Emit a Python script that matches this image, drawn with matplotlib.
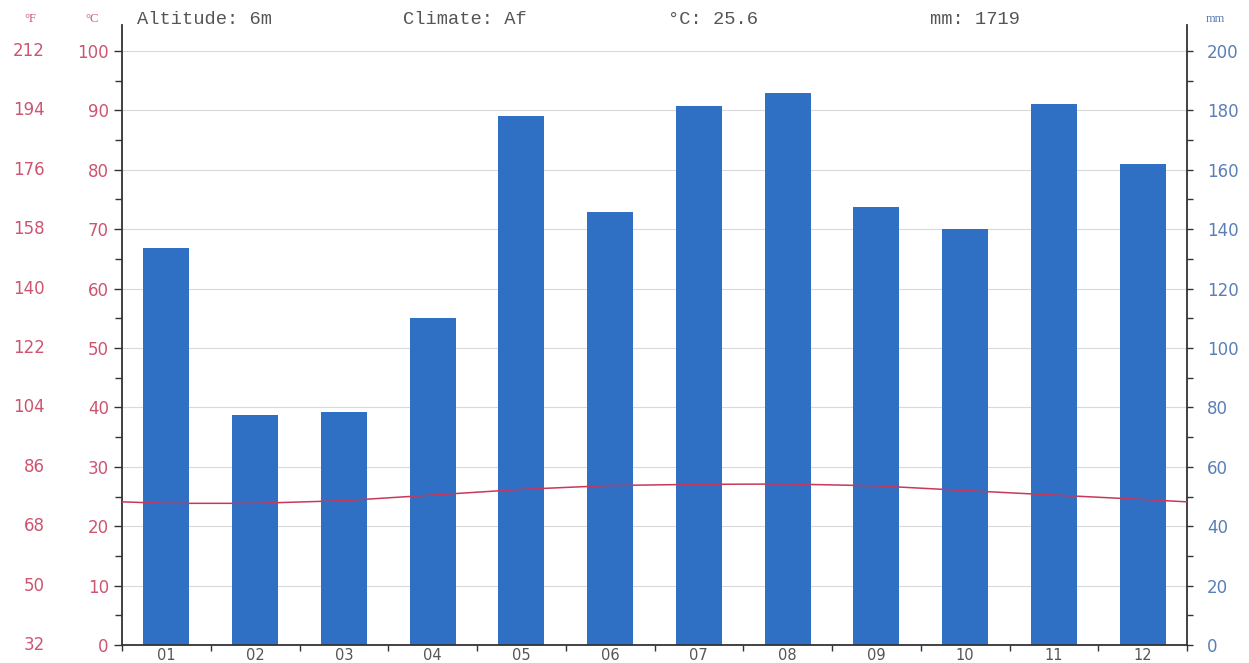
import numpy as np
import matplotlib.pyplot as plt
from matplotlib.ticker import MultipleLocator, FixedLocator, NullFormatter

months = ['01', '02', '03', '04', '05', '06', '07', '08', '09', '10', '11', '12']
precip_mm = [133.7, 77.4, 78.4, 110.0, 178.0, 145.8, 181.5, 186.0, 147.5, 140.0, 182.0, 162.0]
temp_c = [23.85, 23.85, 24.3, 25.25, 26.2, 26.85, 27.05, 27.1, 26.8, 26.0, 25.25, 24.5]
temp_edge = 24.1  # value where the curve meets both side axes
header = ['Altitude: 6m', 'Climate: Af', '°C: 25.6', 'mm: 1719']
header_x = [137, 403, 668, 930]
c_ticks = [0, 10, 20, 30, 40, 50, 60, 70, 80, 90, 100]
f_labels = ['32', '50', '68', '86', '104', '122', '140', '158', '176', '194', '212']
mm_ticks = [0, 20, 40, 60, 80, 100, 120, 140, 160, 180, 200]

RED = '#cc5570'
BLUE = '#5a7eb6'
BAR = '#2f70c4'
LINE = '#c8375c'
AX = '#333333'

W, H = 1249, 663
fig = plt.figure(figsize=(W / 100, H / 100), dpi=100)
left, right, bottom, top = 122, 1187, 645, 25
ax = fig.add_axes([left / W, 1 - bottom / H, (right - left) / W, (bottom - top) / H])

x = np.arange(1, 13)
c_top = 100 * (bottom - top) / (bottom - 51)

# precipitation bars on the mm scale (right side)
ax.bar(x, precip_mm, width=0.52, color=BAR, zorder=2)
ax.set_xlim(0.5, 12.5)
ax.set_ylim(0, 2 * c_top)
ax.grid(axis='y', color='#d9d9d9', lw=0.8, zorder=0)
ax.set_axisbelow(True)

ax.set_xticks(x)
ax.set_xticklabels(months)
ax.xaxis.set_minor_locator(FixedLocator(np.arange(0.5, 13, 1)))
ax.tick_params(axis='x', which='major', length=0, labelsize=10.5, labelcolor='#555555', pad=2.5)
ax.tick_params(axis='x', which='minor', direction='out', length=4, width=1, colors=AX)

ax.spines['top'].set_visible(False)
for s in ['left', 'right', 'bottom']:
    ax.spines[s].set_color(AX)
    ax.spines[s].set_linewidth(1.3)

# temperature curve on the °C scale (left side)
axt = ax.twinx()
axt.set_ylim(0, c_top)
axt.yaxis.tick_left()
axt.yaxis.set_major_locator(FixedLocator(c_ticks))
axt.yaxis.set_minor_locator(MultipleLocator(5))
axt.yaxis.set_minor_formatter(NullFormatter())
axt.tick_params(axis='y', which='major', direction='out', length=6, width=1,
                colors=AX, labelcolor=RED, labelsize=12, pad=3.5)
axt.tick_params(axis='y', which='minor', direction='out', length=5, width=1, colors=AX)
for s in axt.spines.values():
    s.set_visible(False)
tx = np.concatenate([[0.5], x, [12.5]])
ty = np.concatenate([[temp_edge], temp_c, [temp_edge]])
axt.plot(tx, ty, color=LINE, lw=1.1, zorder=3)

# mm axis goes on the right (twinx resets it to the left)
ax.yaxis.tick_right()
ax.yaxis.set_major_locator(FixedLocator(mm_ticks))
ax.yaxis.set_minor_locator(FixedLocator(np.arange(10, 200, 20)))
ax.yaxis.set_minor_formatter(NullFormatter())
ax.tick_params(axis='y', which='both', direction='out', length=4.5, width=1,
               colors=AX, labelcolor=BLUE, labelsize=12, pad=10)

# °F column
for c, f in zip(c_ticks, f_labels):
    ypix = bottom - (bottom - 51) * c / 100
    fig.text(45 / W, 1 - ypix / H, f, ha='right', va='center', color=RED, fontsize=12)

fig.text(30 / W, 1 - 19 / H, '°F', ha='center', va='center', color=RED,
         fontsize=9, family='Liberation Serif')
fig.text(92 / W, 1 - 19 / H, '°C', ha='center', va='center', color=RED,
         fontsize=9, family='Liberation Serif')
fig.text(1215 / W, 1 - 19 / H, 'mm', ha='center', va='center', color=BLUE,
         fontsize=9, family='Liberation Serif')

for t, hx in zip(header, header_x):
    fig.text(hx / W, 1 - 19 / H, t, ha='left', va='center', color='#555555',
             fontsize=13.5, family='Liberation Mono')

fig.savefig('out.png', dpi=100)
